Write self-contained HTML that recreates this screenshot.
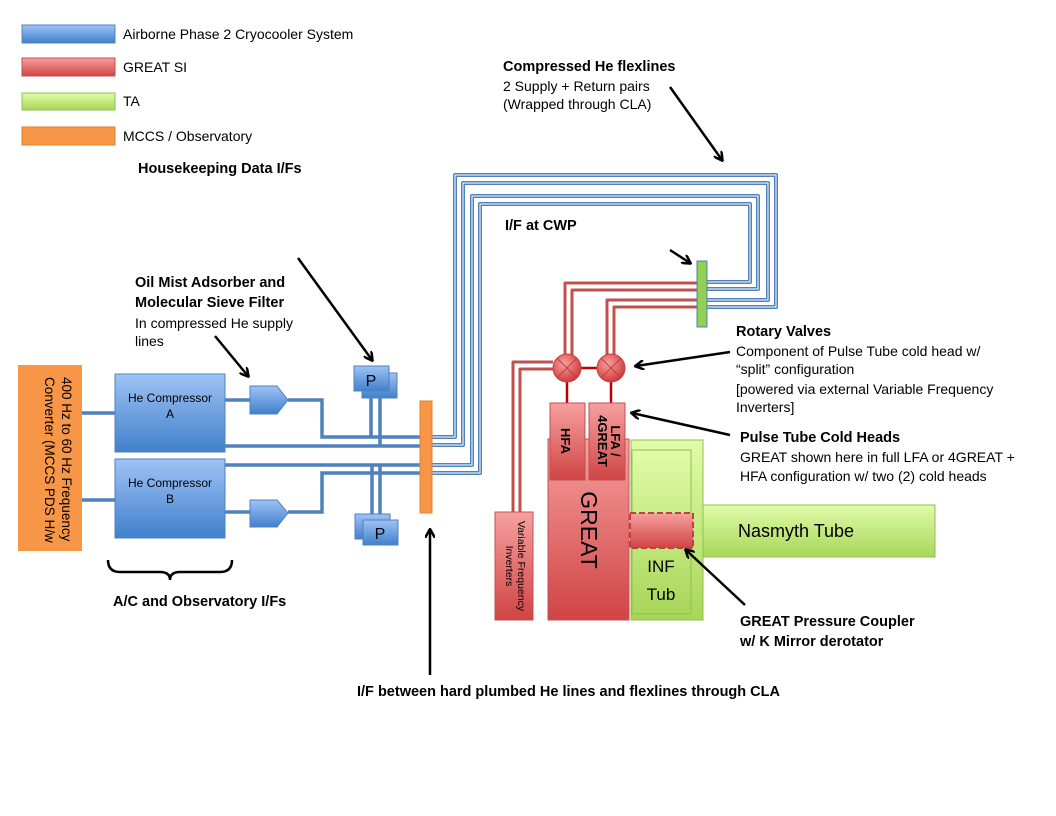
<!DOCTYPE html>
<html><head><meta charset="utf-8"><style>
html,body{margin:0;padding:0;background:#fff}
svg{display:block}
text{font-family:"Liberation Sans",sans-serif;fill:#000}
.b{font-weight:bold;font-size:14.5px}
.n{font-size:14px}
</style></head><body>
<svg width="1056" height="816" viewBox="0 0 1056 816" xmlns="http://www.w3.org/2000/svg">
<defs>
<linearGradient id="gb" x1="0" y1="0" x2="0" y2="1"><stop offset="0" stop-color="#9fc3f5"/><stop offset="1" stop-color="#4080cc"/></linearGradient>
<linearGradient id="gr" x1="0" y1="0" x2="0" y2="1"><stop offset="0" stop-color="#f7a0a0"/><stop offset="1" stop-color="#d04444"/></linearGradient>
<linearGradient id="gg" x1="0" y1="0" x2="0" y2="1"><stop offset="0" stop-color="#e0fca8"/><stop offset="1" stop-color="#a8d65a"/></linearGradient>
<radialGradient id="gv" cx="0.4" cy="0.35" r="0.7"><stop offset="0" stop-color="#f8a0a0"/><stop offset="1" stop-color="#cc3333"/></radialGradient>
<marker id="ah" markerWidth="10" markerHeight="10" refX="8" refY="5" orient="auto" markerUnits="userSpaceOnUse"><path d="M0,0 L9,5 L0,10" fill="none" stroke="#000" stroke-width="2.5"/></marker>
</defs>

<rect x="22" y="25" width="93" height="18" fill="url(#gb)" stroke="#5585c0"/>
<rect x="22" y="58" width="93" height="18" fill="url(#gr)" stroke="#c05050"/>
<rect x="22" y="93" width="93" height="17" fill="url(#gg)" stroke="#90c050"/>
<rect x="22" y="127" width="93" height="18" fill="#f79646" stroke="#e08030"/>
<text x="123" y="39" class="n">Airborne Phase 2 Cryocooler System</text>
<text x="123" y="72" class="n">GREAT SI</text>
<text x="123" y="106" class="n">TA</text>
<text x="123" y="141" class="n">MCCS / Observatory</text>
<text x="138" y="173" class="b">Housekeeping Data I/Fs</text>

<g fill="none" stroke="#4f81bd" stroke-width="4" stroke-linejoin="round">
<path d="M432,437 H455 V175 H776 V307 H707"/>
<path d="M432,445 H463 V183 H768 V300 H707"/>
<path d="M432,465 H472 V196 H758 V289 H707"/>
<path d="M432,473 H480 V204 H750 V282 H707"/>
</g>
<g fill="none" stroke="#fff" stroke-width="1">
<path d="M432,437 H455 V175 H776 V307 H707"/>
<path d="M432,445 H463 V183 H768 V300 H707"/>
<path d="M432,465 H472 V196 H758 V289 H707"/>
<path d="M432,473 H480 V204 H750 V282 H707"/>
</g>

<g fill="none" stroke="#4f81bd" stroke-width="3.5">
<path d="M82,413 H115"/><path d="M82,500 H115"/>
<path d="M225,400 H250"/><path d="M288,400 H322 V437 H420"/>
<path d="M225,446 H420"/>
<path d="M225,465 H420"/>
<path d="M225,512 H250"/><path d="M288,512 H322 V473 H420"/>
<path d="M371,390 V437"/><path d="M380,390 V446"/>
<path d="M372,465 V515"/><path d="M380,465 V520"/>
</g>

<rect x="18" y="365" width="64" height="186" fill="#f79646"/>
<text transform="translate(62,377) rotate(90)" font-size="13.5">400 Hz to 60 Hz Frequency</text>
<text transform="translate(45,377) rotate(90)" font-size="13.5">Converter (MCCS PDS H/w</text>

<rect x="115" y="374" width="110" height="78" fill="url(#gb)" stroke="#4f81bd"/>
<text x="170" y="402" text-anchor="middle" font-size="12">He Compressor</text>
<text x="170" y="418" text-anchor="middle" font-size="12">A</text>
<rect x="115" y="459" width="110" height="79" fill="url(#gb)" stroke="#4f81bd"/>
<text x="170" y="487" text-anchor="middle" font-size="12">He Compressor</text>
<text x="170" y="503" text-anchor="middle" font-size="12">B</text>

<path d="M250,386 H277 L288,400 L277,414 H250 Z" fill="url(#gb)" stroke="#4f81bd"/>
<path d="M250,500 H277 L288,513 L277,527 H250 Z" fill="url(#gb)" stroke="#4f81bd"/>

<rect x="362" y="373" width="35" height="25" fill="url(#gb)" stroke="#4f81bd"/>
<rect x="354" y="366" width="35" height="25" fill="url(#gb)" stroke="#4f81bd"/>
<text x="371" y="386" text-anchor="middle" font-size="16">P</text>
<rect x="355" y="514" width="35" height="25" fill="url(#gb)" stroke="#4f81bd"/>
<rect x="363" y="520" width="35" height="25" fill="url(#gb)" stroke="#4f81bd"/>
<text x="380" y="539" text-anchor="middle" font-size="16">P</text>

<rect x="420" y="401" width="12" height="112" fill="#f79646" stroke="#e08030"/>

<g fill="none" stroke="#c0504d" stroke-width="3" stroke-linejoin="round">
<path d="M697,283 H565 V356"/><path d="M697,290 H572 V356"/>
<path d="M697,300 H607 V356"/><path d="M697,307 H614 V356"/>
<path d="M553,362 H513 V512"/><path d="M553,369 H520 V512"/>
</g>
<g stroke="#c00000" stroke-width="2.5"><path d="M581,368 H597"/><path d="M567,382 V403"/><path d="M611,382 V403"/></g>
<rect x="697" y="261" width="10" height="66" fill="#92d050" stroke="#4f81bd"/>

<g stroke="#c04040" stroke-width="1">
<circle cx="567" cy="368" r="14" fill="url(#gv)"/>
<path d="M557,358 L577,378 M577,358 L557,378"/>
<circle cx="611" cy="368" r="14" fill="url(#gv)"/>
<path d="M601,358 L621,378 M621,358 L601,378"/>
</g>

<rect x="631" y="440" width="72" height="180" fill="url(#gg)" stroke="#90c050"/>
<rect x="703" y="505" width="232" height="52" fill="url(#gg)" stroke="#90c050"/>
<text x="738" y="537" font-size="18">Nasmyth Tube</text>
<rect x="632" y="450" width="59" height="164" fill="url(#gg)" stroke="#90c050"/>
<text x="661" y="572" font-size="17" text-anchor="middle">INF</text>
<text x="661" y="600" font-size="17" text-anchor="middle">Tub</text>
<rect x="548" y="439" width="81" height="181" fill="url(#gr)" stroke="#c05050"/>
<text transform="translate(581,530) rotate(90)" font-size="23" text-anchor="middle">GREAT</text>
<rect x="550" y="403" width="35" height="77" fill="url(#gr)" stroke="#c05050"/>
<text transform="translate(561,441) rotate(90)" font-weight="bold" font-size="13" text-anchor="middle">HFA</text>
<rect x="589" y="403" width="36" height="77" fill="url(#gr)" stroke="#c05050"/>
<text transform="translate(611,441) rotate(90)" font-weight="bold" font-size="13" text-anchor="middle">LFA /</text>
<text transform="translate(598,441) rotate(90)" font-weight="bold" font-size="13" text-anchor="middle">4GREAT</text>
<rect x="630" y="513" width="63" height="35" fill="url(#gr)" stroke="#c04040" stroke-width="2" stroke-dasharray="6,3"/>
<rect x="495" y="512" width="38" height="108" fill="url(#gr)" stroke="#c05050"/>
<text transform="translate(518,566) rotate(90)" font-size="10.5" text-anchor="middle">Variable Frequency</text>
<text transform="translate(506,566) rotate(90)" font-size="10.5" text-anchor="middle">Inverters</text>

<g stroke="#000" stroke-width="2.5" fill="none" marker-end="url(#ah)">
<path d="M670,87 L722,160"/>
<path d="M298,258 L372,360"/>
<path d="M215,336 L248,376"/>
<path d="M670,250 L690,263"/>
<path d="M730,352 L636,366"/>
<path d="M730,435 L632,413"/>
<path d="M745,605 L686,550"/>
<path d="M430,675 L430,530"/>
</g>
<path d="M108,560 Q108,572 120,572 H160 Q170,572 170,580 Q170,572 180,572 H220 Q232,572 232,560" fill="none" stroke="#000" stroke-width="2.5"/>

<text x="503" y="71" class="b">Compressed He flexlines</text>
<text x="503" y="91" class="n">2 Supply + Return pairs</text>
<text x="503" y="109" class="n">(Wrapped through CLA)</text>
<text x="505" y="230" class="b">I/F at CWP</text>
<text x="135" y="287" class="b">Oil Mist Adsorber and</text>
<text x="135" y="307" class="b">Molecular Sieve Filter</text>
<text x="135" y="328" class="n">In compressed He supply</text>
<text x="135" y="346" class="n">lines</text>
<text x="736" y="336" class="b">Rotary Valves</text>
<text x="736" y="356" class="n">Component of Pulse Tube cold head w/</text>
<text x="736" y="374" class="n">“split” configuration</text>
<text x="736" y="394" class="n">[powered via external Variable Frequency</text>
<text x="736" y="412" class="n">Inverters]</text>
<text x="740" y="442" class="b">Pulse Tube Cold Heads</text>
<text x="740" y="462" class="n">GREAT shown here in full LFA or 4GREAT +</text>
<text x="740" y="481" class="n">HFA configuration w/ two (2) cold heads</text>
<text x="740" y="626" class="b">GREAT Pressure Coupler</text>
<text x="740" y="646" class="b">w/ K Mirror derotator</text>
<text x="113" y="606" class="b">A/C and Observatory I/Fs</text>
<text x="357" y="696" class="b">I/F between hard plumbed He lines and flexlines through CLA</text>
</svg>
</body></html>
